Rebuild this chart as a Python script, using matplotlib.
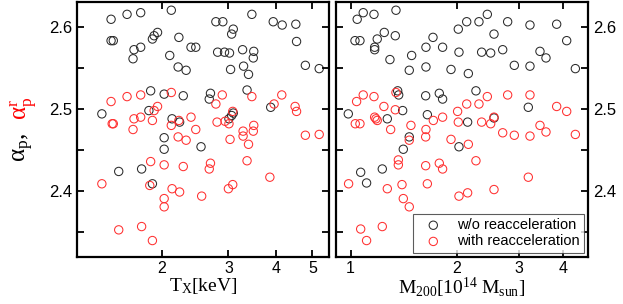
import matplotlib
matplotlib.use("Agg")
import matplotlib.pyplot as plt
from matplotlib.ticker import FixedLocator, NullLocator, FixedFormatter

# ---- data: left panel (T_X [keV]) ----
tx_black = [1.39, 1.47, 1.47, 1.49, 1.62, 1.76, 1.69, 1.76, 1.68, 1.89, 1.91, 1.95,
            2.10, 2.12, 2.22, 2.21, 2.32, 2.39, 2.46, 1.87, 2.03, 2.28, 1.85, 2.13,
            2.23, 2.03, 2.03, 1.54, 1.77, 1.89, 2.54, 2.78, 2.90, 3.46, 3.09, 3.06,
            3.94, 4.16, 4.52, 4.54, 2.81, 2.93, 3.02, 3.27, 3.50, 3.49, 3.04, 3.29,
            3.39, 4.79, 5.21, 2.69, 2.67, 3.36, 3.88, 3.01, 3.06, 3.09]
ap_black_t = [2.494, 2.609, 2.583, 2.583, 2.615, 2.617, 2.572, 2.575, 2.561, 2.585, 2.589, 2.593,
              2.565, 2.620, 2.587, 2.551, 2.547, 2.575, 2.575, 2.522, 2.518, 2.516, 2.498, 2.488,
              2.484, 2.465, 2.451, 2.424, 2.427, 2.409, 2.454, 2.606, 2.606, 2.615, 2.597, 2.591,
              2.606, 2.602, 2.603, 2.582, 2.569, 2.569, 2.568, 2.572, 2.570, 2.562, 2.548, 2.552,
              2.542, 2.553, 2.549, 2.519, 2.512, 2.523, 2.502, 2.488, 2.492, 2.495]
tx_red = [1.47, 1.62, 1.76, 2.12, 1.48, 1.49, 1.69, 1.76, 1.89, 1.91, 1.95, 2.12,
          2.22, 2.39, 1.68, 2.46, 2.21, 2.32, 1.87, 2.03, 2.28, 1.39, 1.86, 2.13,
          2.23, 2.03, 2.03, 2.55, 1.54, 1.77, 1.89, 2.89, 2.78, 3.46, 4.15, 3.96,
          4.50, 4.54, 3.08, 2.80, 2.94, 3.01, 3.28, 3.28, 3.50, 3.49, 3.03, 3.39,
          4.79, 5.21, 2.69, 2.67, 3.36, 3.86, 3.08, 3.00]
ap_red_t = [2.509, 2.515, 2.517, 2.520, 2.482, 2.482, 2.488, 2.490, 2.486, 2.498, 2.503, 2.480,
            2.486, 2.490, 2.475, 2.475, 2.466, 2.462, 2.436, 2.432, 2.430, 2.409, 2.407, 2.403,
            2.399, 2.391, 2.381, 2.394, 2.353, 2.357, 2.340, 2.517, 2.506, 2.515, 2.517, 2.506,
            2.503, 2.497, 2.497, 2.484, 2.485, 2.482, 2.473, 2.467, 2.480, 2.473, 2.463, 2.457,
            2.468, 2.469, 2.434, 2.427, 2.437, 2.417, 2.408, 2.403]

# ---- data: right panel (M200 [1e14 Msun]) ----
m_black = [1.044, 1.086, 1.165, 1.345, 1.029, 1.063, 1.170, 1.170, 1.190, 1.246, 1.339, 1.293,
           1.490, 1.467, 1.636, 1.636, 1.713, 1.824, 1.927, 2.021, 2.030, 2.158, 2.135, 2.313,
           2.443, 2.552, 2.497, 2.354, 2.701, 2.790, 2.914, 3.228, 3.228, 3.843, 4.103, 3.446,
           3.584, 4.342, 1.360, 1.369, 1.405, 1.633, 1.785, 1.824, 1.651, 1.271, 0.985, 2.148,
           2.552, 3.193, 2.268, 1.467, 1.411, 2.030, 1.068, 1.110, 1.230]
ap_black_m = [2.609, 2.617, 2.615, 2.620, 2.583, 2.583, 2.575, 2.572, 2.585, 2.593, 2.589, 2.560,
              2.565, 2.547, 2.575, 2.551, 2.587, 2.575, 2.548, 2.597, 2.569, 2.543, 2.606, 2.606,
              2.615, 2.591, 2.568, 2.569, 2.572, 2.606, 2.553, 2.552, 2.602, 2.603, 2.583, 2.570,
              2.562, 2.549, 2.522, 2.517, 2.498, 2.516, 2.519, 2.512, 2.493, 2.488, 2.494, 2.484,
              2.489, 2.502, 2.522, 2.466, 2.451, 2.454, 2.423, 2.410, 2.427]
m_red = [1.040, 1.086, 1.165, 1.243, 1.345, 1.339, 1.031, 1.063, 1.170, 1.180, 1.190, 1.299,
         1.483, 1.467, 1.636, 1.633, 1.717, 1.824, 1.927, 2.012, 2.021, 1.366, 1.366, 1.633,
         1.785, 1.824, 0.987, 1.271, 1.399, 1.651, 1.411, 1.467, 2.030, 1.068, 1.110, 1.230,
         2.135, 2.313, 2.443, 2.354, 2.552, 2.497, 2.790, 3.228, 2.701, 2.914, 3.228, 3.446,
         3.584, 3.843, 4.103, 4.342, 2.158, 2.268, 3.193, 2.148, 2.552]
ap_red_m = [2.509, 2.517, 2.515, 2.503, 2.520, 2.499, 2.482, 2.482, 2.490, 2.488, 2.486, 2.475,
            2.480, 2.462, 2.475, 2.466, 2.486, 2.490, 2.463, 2.497, 2.484, 2.438, 2.432, 2.431,
            2.434, 2.427, 2.409, 2.403, 2.408, 2.409, 2.391, 2.381, 2.394, 2.354, 2.340, 2.357,
            2.506, 2.506, 2.515, 2.484, 2.490, 2.482, 2.517, 2.517, 2.471, 2.468, 2.467, 2.480,
            2.472, 2.503, 2.497, 2.469, 2.457, 2.437, 2.417, 2.398, 2.402]

t_ticks = [2, 3, 4, 5]
m_ticks = [1, 2, 3, 4]
y_ticks = [2.4, 2.5, 2.6]
y_minor = [2.35, 2.45, 2.55]
legend_labels = ["w/o reacceleration", "with reacceleration"]

BLACK = "#2b2b2b"
RED = "#ff3030"

plt.rcParams["font.family"] = ["Liberation Sans", "DejaVu Sans"]
plt.rcParams["mathtext.fontset"] = "custom"
plt.rcParams["mathtext.rm"] = "Liberation Serif"
plt.rcParams["mathtext.it"] = "Liberation Serif:italic"

fig = plt.figure(figsize=(6.23, 3.04), dpi=100)
axL = fig.add_axes([77 / 623, 47 / 304, 252 / 623, 255 / 304])
axR = fig.add_axes([336 / 623, 47 / 304, 252 / 623, 255 / 304])

ms = 36
for ax, xb, yb, xr, yr in [(axL, tx_black, ap_black_t, tx_red, ap_red_t),
                           (axR, m_black, ap_black_m, m_red, ap_red_m)]:
    ax.scatter(xb, yb, s=ms, facecolors="none", edgecolors=BLACK, linewidths=0.75,
               label=legend_labels[0])
    ax.scatter(xr, yr, s=ms, facecolors="none", edgecolors=RED, linewidths=0.75,
               label=legend_labels[1])
    ax.set_xscale("log")
    ax.set_ylim(2.32, 2.63)
    ax.yaxis.set_major_locator(FixedLocator(y_ticks))
    ax.yaxis.set_minor_locator(FixedLocator(y_minor))
    ax.xaxis.set_minor_locator(NullLocator())
    for s in ax.spines.values():
        s.set_linewidth(1.6)
    ax.tick_params(which="both", direction="in", top=True, right=True, width=1.3)
    ax.tick_params(which="major", length=5)
    ax.tick_params(which="minor", length=5)
    ax.tick_params(axis="y", labelsize=12)
    ax.tick_params(axis="x", labelsize=11.5, pad=3)

axL.set_xlim(1.195, 5.53)
axL.xaxis.set_major_locator(FixedLocator(t_ticks))
axL.xaxis.set_major_formatter(FixedFormatter([str(t) for t in t_ticks]))
axL.set_xlabel(r"$\mathrm{T_X[keV]}$", fontsize=14, labelpad=0)
axL.yaxis.set_major_formatter(FixedFormatter(["2.4", "2.5", "2.6"]))

axR.set_xlim(0.909, 4.716)
axR.xaxis.set_major_locator(FixedLocator(m_ticks))
axR.xaxis.set_major_formatter(FixedFormatter([str(m) for m in m_ticks]))
axR.set_xlabel(r"$\mathrm{M_{200}[10^{14}\ M_{sun}]}$", fontsize=14, labelpad=0)
axR.yaxis.tick_right()
axR.yaxis.set_label_position("right")
axR.tick_params(which="both", left=True, right=True, labelleft=False, labelright=True)
axR.yaxis.set_major_formatter(FixedFormatter(["2.4", "2.5", "2.6"]))

leg = axR.legend(loc="lower right", fontsize=10.5, frameon=True, fancybox=False,
                 edgecolor="#333333", borderaxespad=0.3, handletextpad=0.5,
                 borderpad=0.3, labelspacing=0.15, handlelength=2.2)
leg.get_frame().set_linewidth(0.8)

# two-coloured y label
fig.text(24 / 623, 1 - 147 / 304, r"$\mathrm{\alpha_p}$,", rotation=90, fontsize=18,
         color="black", ha="center", va="center", family="Liberation Serif")
fig.text(24 / 623, 1 - 108 / 304, r"$\mathrm{\alpha_p^r}$", rotation=90, fontsize=18,
         color="red", ha="center", va="center", family="Liberation Serif")

fig.savefig("out.png", dpi=100)
